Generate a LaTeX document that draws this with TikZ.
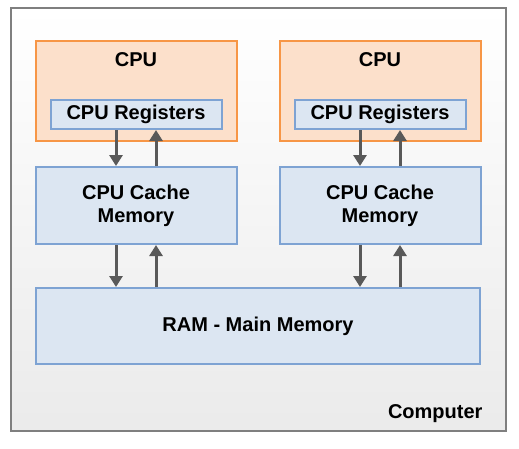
\documentclass[tikz,border=0pt]{standalone}
\usepackage{fontspec}
\setmainfont{Liberation Sans}
\usetikzlibrary{arrows.meta}
\definecolor{cpuorange}{HTML}{F79646}
\definecolor{cpufill}{HTML}{FCE0CB}
\definecolor{memblue}{HTML}{7EA3D3}
\definecolor{memfill}{HTML}{DCE6F2}
\definecolor{arrgray}{HTML}{595959}
\definecolor{boxgray}{HTML}{7F7F7F}
\begin{document}
\begin{tikzpicture}[x=1pt,y=-1pt,
  every node/.style={font=\fontsize{20}{23}\selectfont\bfseries},
  cpubox/.style={draw=cpuorange,fill=cpufill,line width=2pt,minimum width=201pt,minimum height=100pt},
  regbox/.style={draw=memblue,fill=memfill,line width=2pt,minimum width=171pt,minimum height=29pt,inner sep=0pt},
  cachebox/.style={draw=memblue,fill=memfill,line width=2pt,minimum width=201pt,minimum height=77pt,align=center},
  arr/.style={arrgray,line width=3pt,-{Triangle[width=13pt,length=11pt]}}]
\path[use as bounding box] (0,0) rectangle (519,448);
\draw[boxgray,line width=2.5pt,top color=white,bottom color=black!8] (11,8) rectangle (506,431);
\node[cpubox] (cpu1) at (136,90.5) {};
\node[cpubox] (cpu2) at (380,90.5) {};
\node (cpu1lab) at (136,60) {CPU};
\node (cpu2lab) at (380,60) {CPU};
\node[regbox] (reg1) at (136,114.5) {CPU Registers};
\node[regbox] (reg2) at (380,114.5) {CPU Registers};
\node[cachebox] (cache1) at (136,205.5) {CPU Cache\\Memory};
\node[cachebox] (cache2) at (380,205.5) {CPU Cache\\Memory};
\node[cachebox,minimum width=444pt,minimum height=76pt] (ram) at (258,326) {RAM - Main Memory};
\node[anchor=east] (comp) at (486,414) {Computer};
\draw[arr] ([xshift=-20pt]reg1.south) -- ([xshift=-20pt]cache1.north);
\draw[arr] ([xshift=20pt]cache1.north) -- ([xshift=20pt]reg1.south);
\draw[arr] ([xshift=-20pt]reg2.south) -- ([xshift=-20pt]cache2.north);
\draw[arr] ([xshift=20pt]cache2.north) -- ([xshift=20pt]reg2.south);
\draw[arr] ([xshift=-20pt]cache1.south) -- ([xshift=-20pt]cache1.south |- ram.north);
\draw[arr] ([xshift=20pt]cache1.south |- ram.north) -- ([xshift=20pt]cache1.south);
\draw[arr] ([xshift=-20pt]cache2.south) -- ([xshift=-20pt]cache2.south |- ram.north);
\draw[arr] ([xshift=20pt]cache2.south |- ram.north) -- ([xshift=20pt]cache2.south);
\end{tikzpicture}
\end{document}
